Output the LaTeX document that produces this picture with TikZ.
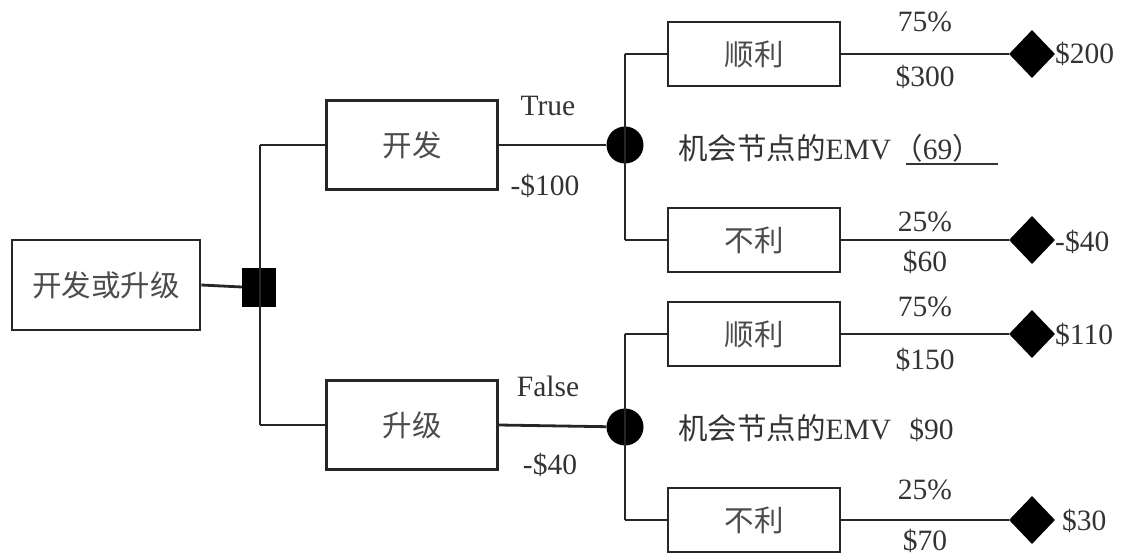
\documentclass[tikz,border=0pt]{standalone}
\usepackage{fontspec}
\setmainfont{Liberation Serif}
\newfontfamily\cjk{Noto Sans CJK SC}
\usetikzlibrary{shapes.geometric}
\begin{document}
\begin{tikzpicture}[x=1pt,y=-1pt,
  box/.style={draw, black!85, line width=2.6pt, inner sep=0pt, font=\cjk\fontsize{29.5}{31}\selectfont, text=black!70},
  rootbox/.style={box, minimum width=188pt, minimum height=90pt},
  midbox/.style={box, minimum width=171pt, minimum height=89pt},
  leafbox/.style={box, minimum width=172pt, minimum height=64pt},
  lbl/.style={inner sep=0pt, font=\fontsize{29.5}{31}\selectfont, text=black!80},
  conn/.style={line width=2.8pt, black!85},
  chance/.style={circle, fill=black, minimum size=37pt, inner sep=0pt},
  decision/.style={rectangle, fill=black, minimum width=34pt, minimum height=39pt, inner sep=0pt},
  endnode/.style={diamond, fill=black, minimum width=46pt, minimum height=48pt, inner sep=0pt}]
\useasboundingbox (0,0) rectangle (1122,556);

% root
\node[rootbox] (root) at (106,285) {开发或升级};
\node[decision] (dec) at (259,287) {};
\draw[conn] (root.east) -- (dec.west);
\coordinate (vtop) at (260,145);
\coordinate (vbot) at (260,425);
\draw[conn] (vtop) -- (vbot);

% branches
\node[midbox] (dev) at (412,145) {开发};
\node[midbox] (upg) at (412,425) {升级};
\draw[conn] (vtop) -- (dev.west);
\draw[conn] (vbot) -- (upg.west);

\node[chance] (c1) at (625,145) {};
\node[chance] (c2) at (625,427) {};
\draw[conn] (dev.east) -- (c1);
\draw[conn] (upg.east) -- (c2);
\node[lbl] (ltrue) at (548,106) {True};
\node[lbl] (lm100) at (545,186) {-\$100};
\node[lbl] (lfalse) at (548,386) {False};
\node[lbl] (lm40) at (550,465) {-\$40};

% chance 1 leaves
\coordinate (c1t) at (625,54);
\coordinate (c1b) at (625,240);
\draw[conn] (c1t) -- (c1b);
\node[leafbox] (s1) at (754,54) {顺利};
\node[leafbox] (f1) at (754,240) {不利};
\draw[conn] (c1t) -- (s1.west);
\draw[conn] (c1b) -- (f1.west);

% chance 2 leaves
\coordinate (c2t) at (625,334);
\coordinate (c2b) at (625,520);
\draw[conn] (c2t) -- (c2b);
\node[leafbox] (s2) at (754,334) {顺利};
\node[leafbox] (f2) at (754,520) {不利};
\draw[conn] (c2t) -- (s2.west);
\draw[conn] (c2b) -- (f2.west);

% end nodes
\node[endnode] (e1) at (1032,54) {};
\node[endnode] (e2) at (1032,240) {};
\node[endnode] (e3) at (1032,334) {};
\node[endnode] (e4) at (1032,520) {};
\draw[conn] (s1.east) -- (e1);
\draw[conn] (f1.east) -- (e2);
\draw[conn] (s2.east) -- (e3);
\draw[conn] (f2.east) -- (e4);

\node[lbl, anchor=west] (v1) at (1055,54) {\$200};
\node[lbl, anchor=west] (v2) at (1055,242) {-\$40};
\node[lbl, anchor=west] (v3) at (1055,335) {\$110};
\node[lbl, anchor=west] (v4) at (1062,521) {\$30};

\node[lbl] (p1) at (925,22) {75\%};
\node[lbl] (a1) at (925,77) {\$300};
\node[lbl] (p2) at (925,222) {25\%};
\node[lbl] (a2) at (925,262) {\$60};
\node[lbl] (p3) at (925,307) {75\%};
\node[lbl] (a3) at (925,360) {\$150};
\node[lbl] (p4) at (925,490) {25\%};
\node[lbl] (a4) at (925,541) {\$70};

% EMV texts
\node[lbl, anchor=west] (emv1) at (678,148) {{\cjk 机会节点的}EMV\hspace{2pt}{\cjk （}69{\cjk ）}};
\coordinate (ul1a) at (906,164);
\coordinate (ul1b) at (998,164);
\draw[line width=2.2pt, black!80] (ul1a) -- (ul1b);
\node[lbl, anchor=west] (emv2) at (678,428) {{\cjk 机会节点的}EMV\hspace{18pt}\$90};
\end{tikzpicture}
\end{document}
